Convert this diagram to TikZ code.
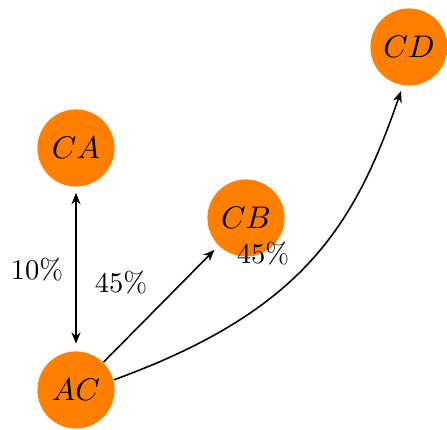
\documentclass[tikz,border=0pt]{standalone}
\usetikzlibrary{arrows.meta}
\begin{document}
\begin{tikzpicture}[x=0.35pt,y=0.35pt,
  state/.style={circle,fill=orange,minimum size=27pt,inner sep=0pt,
    font=\fontsize{10.8}{13}\selectfont},
  tip/.tip={Stealth[length=4pt,width=3.2pt]},
  link/.style={line width=0.55pt,-tip,shorten >=2pt},
  pct/.style={inner sep=0pt}]
\useasboundingbox (0,0) rectangle (447,430);
\node[state] (CA) at (76,282) {$CA$};
\node[state] (CB) at (246,212) {$CB$};
\node[state] (CD) at (409,383) {$CD$};
\node[state] (AC) at (76,40) {$AC$};
% two-way link between CA and AC
\draw[link,tip-tip,shorten <=2pt,shorten >=2.5pt] (CA) -- (AC);
\draw[link] (AC) -- (CB);
% long curved link sweeping below CB up to CD
\draw[link] (AC.15) .. controls +(20:200) and +(-109:150) .. (CD.-99);
\node[pct] (p1) at (37,160) {10\%};
\node[pct] (p2) at (121,147) {45\%};
\node[pct] (p3) at (263,176) {45\%};
\end{tikzpicture}
\end{document}
